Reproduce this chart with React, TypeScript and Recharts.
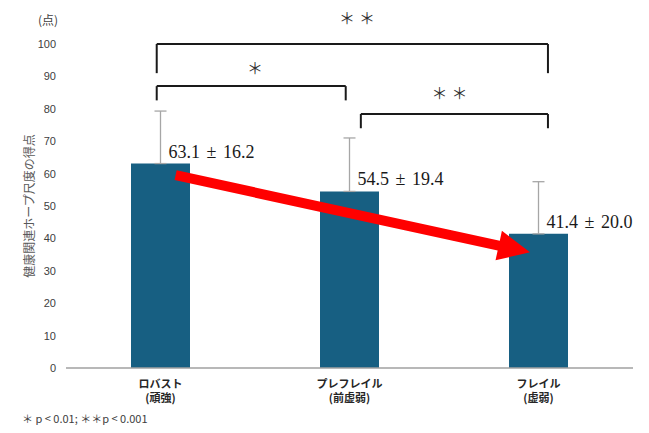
import React from 'react';
import {
  Bar,
  BarChart,
  ErrorBar,
  LabelList,
  ReferenceDot,
  ReferenceLine,
  XAxis,
  YAxis,
} from 'recharts';

// カテゴリと値
const categories = ['ロバスト', 'プレフレイル', 'フレイル'];
const subLabels = ['(頑強)', '(前虚弱)', '(虚弱)'];
const means = [63.1, 54.5, 41.4];
const sds = [16.2, 19.4, 20.0];
// 図中のエラーバーの長さ（上側のみ）
const errUp = [16.2, 16.5, 16.1];
const yTicks = [0, 10, 20, 30, 40, 50, 60, 70, 80, 90, 100];

// 有意差の括弧（x はカテゴリ軸の単位）
const brackets = [
  { from: 0.48, to: 2.55, top: 100, foot: 91, star: '＊＊', starX: 1.55, starY: 108.3 },
  { from: 0.48, to: 1.48, top: 87, foot: 82.6, star: '＊', starX: 1.01, starY: 92.9 },
  { from: 1.56, to: 2.55, top: 78.4, foot: 74, star: '＊＊', starX: 2.04, starY: 85.2 },
];

// 矢印の始点・終点
const arrowFrom = { x: 0.58, y: 59.5 };
const arrowTo = { x: 2.455, y: 35.7 };

const data = categories.map((name, i) => ({
  x: i + 0.5,
  name,
  mean: means[i],
  err: [0, errUp[i]],
}));

const cjk = '"Noto Sans CJK JP", "Noto Sans", sans-serif';

const CategoryTick = (props: any) => {
  const { x, y, payload } = props;
  const i = Math.floor(payload.value);
  return (
    <text x={x} y={y + 11.5} textAnchor="middle" fontSize={11} fontWeight="bold" fill="#262626" fontFamily={cjk}>
      <tspan x={x}>{categories[i]}</tspan>
      <tspan x={x} dy={14}>{subLabels[i]}</tspan>
    </text>
  );
};

const ValueLabel = (props: any) => {
  const { x, y, width, index } = props;
  return (
    <text
      x={x + width / 2 + 8}
      y={y - 6}
      fontSize={18}
      fill="#1a1a1a"
      fontFamily='"Liberation Serif", "Times New Roman", serif'
    >
      {`${means[index].toFixed(1)} `}
      <tspan dx={2}>±</tspan>
      <tspan dx={2}>{` ${sds[index].toFixed(1)}`}</tspan>
    </text>
  );
};

const Arrow = (props: any) => {
  const { x1, y1, x2, y2 } = props;
  const dx = x2 - x1;
  const dy = y2 - y1;
  const len = Math.sqrt(dx * dx + dy * dy);
  const ux = dx / len;
  const uy = dy / len;
  const nx = -uy;
  const ny = ux;
  const shaft = 5;
  const head = 15;
  const headLen = 32;
  const bx = x2 - ux * headLen;
  const by = y2 - uy * headLen;
  const pts = [
    [x1 + nx * shaft, y1 + ny * shaft],
    [bx + nx * shaft, by + ny * shaft],
    [bx + nx * head, by + ny * head],
    [x2, y2],
    [bx - nx * head, by - ny * head],
    [bx - nx * shaft, by - ny * shaft],
    [x1 - nx * shaft, y1 - ny * shaft],
  ];
  return <polygon points={pts.map((p) => p.join(',')).join(' ')} fill="#ff0000" />;
};

const Star = (text: string) => (props: any) => (
  <text
    x={props.cx}
    y={props.cy}
    textAnchor="middle"
    dominantBaseline="central"
    fontSize={16}
    letterSpacing={4}
    fill="#333333"
    fontFamily={cjk}
  >
    {text}
  </text>
);

export default function App() {
  return (
    <div style={{ position: 'relative', width: 649, height: 433, margin: -8 }}>
      <BarChart
        width={649}
        height={433}
        data={data}
        margin={{ top: 44, right: 16, left: 26, bottom: 25 }}
      >
        <XAxis
          type="number"
          dataKey="x"
          domain={[0, 3]}
          ticks={[0.5, 1.5, 2.5]}
          tick={<CategoryTick />}
          tickLine={false}
          axisLine={{ stroke: '#a0a0a0', strokeWidth: 1.5 }}
          height={40}
          interval={0}
        />
        <YAxis
          domain={[0, 100]}
          ticks={yTicks}
          width={40}
          axisLine={false}
          tickLine={false}
          tickMargin={4}
          tick={{ fill: '#404040', fontSize: 11, fontFamily: '"Liberation Sans", Arial, sans-serif' }}
          label={{
            value: '健康関連ホープ尺度の得点',
            angle: -90,
            position: 'insideLeft',
            offset: 4,
            style: { fill: '#595959', fontSize: 12, fontFamily: cjk, textAnchor: 'middle' },
          }}
        />
        <Bar dataKey="mean" barSize={59} fill="#175f82" isAnimationActive={false}>
          <ErrorBar dataKey="err" direction="y" width={6} stroke="#a6a6a6" strokeWidth={1.3} isAnimationActive={false} />
          <LabelList dataKey="mean" content={<ValueLabel />} />
        </Bar>
        {brackets.map((b, i) => (
          <ReferenceLine
            key={`h${i}`}
            segment={[{ x: b.from, y: b.top }, { x: b.to, y: b.top }]}
            stroke="#1a1a1a"
            strokeWidth={2}
            ifOverflow="visible"
          />
        ))}
        {brackets.map((b, i) => (
          <ReferenceLine
            key={`l${i}`}
            segment={[{ x: b.from, y: b.top }, { x: b.from, y: b.foot }]}
            stroke="#1a1a1a"
            strokeWidth={2}
            ifOverflow="visible"
          />
        ))}
        {brackets.map((b, i) => (
          <ReferenceLine
            key={`r${i}`}
            segment={[{ x: b.to, y: b.top }, { x: b.to, y: b.foot }]}
            stroke="#1a1a1a"
            strokeWidth={2}
            ifOverflow="visible"
          />
        ))}
        {brackets.map((b, i) => (
          <ReferenceDot key={`s${i}`} x={b.starX} y={b.starY} ifOverflow="visible" shape={Star(b.star)} />
        ))}
        <ReferenceLine
          segment={[arrowFrom, arrowTo]}
          ifOverflow="visible"
          shape={<Arrow />}
        />
      </BarChart>
      <div
        style={{
          position: 'absolute',
          left: 38,
          top: 13,
          fontSize: 12,
          lineHeight: '14px',
          color: '#404040',
          fontFamily: cjk,
        }}
      >
        (点)
      </div>
      <div
        style={{
          position: 'absolute',
          left: 22,
          top: 411,
          fontSize: 11,
          lineHeight: '14px',
          color: '#404040',
          fontFamily: cjk,
          whiteSpace: 'nowrap',
        }}
      >
        ＊ p &lt; 0.01; ＊＊p &lt; 0.001
      </div>
    </div>
  );
}
